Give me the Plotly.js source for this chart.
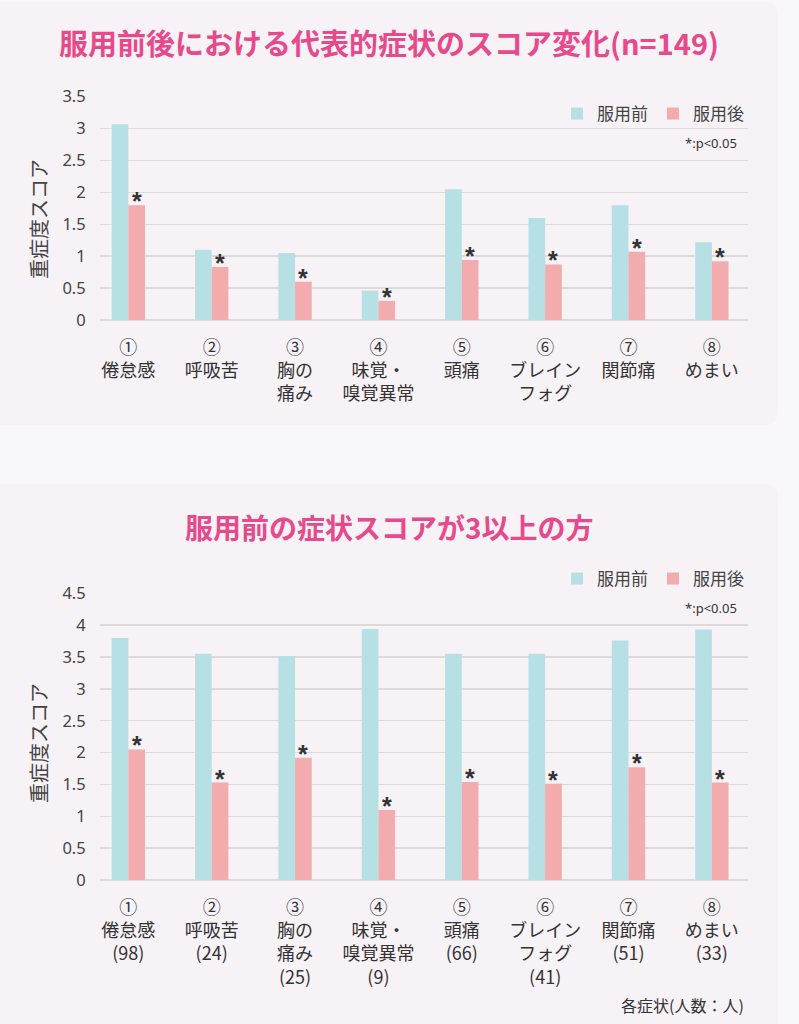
<!DOCTYPE html>
<html>
<head>
<meta charset="utf-8">
<script src="https://cdn.plot.ly/plotly-3.0.1.min.js"></script>
<style>
  html, body { margin: 0; padding: 0; background: #f8f8fa; }
  #chart { width: 799px; height: 1024px; }
</style>
</head>
<body>
<div id="chart"></div>
<script>
// ---- Data ----
const circledNums = ['①','②','③','④','⑤','⑥','⑦','⑧'];
const symptoms = ['倦怠感','呼吸苦','胸の<br>痛み','味覚・<br>嗅覚異常','頭痛','ブレイン<br>フォグ','関節痛','めまい'];
const counts = [98, 24, 25, 9, 66, 41, 51, 33];

// Chart 1: all subjects (n=149)
const before1 = [3.07, 1.10, 1.05, 0.46, 2.05, 1.60, 1.80, 1.22];
const after1  = [1.80, 0.83, 0.60, 0.30, 0.94, 0.87, 1.07, 0.92];
// Chart 2: subjects with pre-score >= 3
const before2 = [3.80, 3.55, 3.51, 3.94, 3.55, 3.55, 3.76, 3.93];
const after2  = [2.05, 1.53, 1.92, 1.10, 1.54, 1.51, 1.77, 1.53];
// significance marks (p<0.05) for after values
const sig1 = ['*','*','*','*','*','*','*','*'];
const sig2 = ['*','*','*','*','*','*','*','*'];

const yTicks1 = [0, 0.5, 1, 1.5, 2, 2.5, 3, 3.5];
const yTicks2 = [0, 0.5, 1, 1.5, 2, 2.5, 3, 3.5, 4, 4.5];

const title1 = '服用前後における代表的症状のスコア変化(n=149)';
const title2 = '服用前の症状スコアが3以上の方';
const yTitle = '重症度スコア';
const seriesNames = ['服用前', '服用後'];
const pNote = '*:p&lt;0.05';
const footNote = '各症状(人数：人)';

// ---- Build ----
const labels1 = symptoms.map((s, i) => circledNums[i] + '<br>' + s);
const labels2 = symptoms.map((s, i) => circledNums[i] + '<br>' + s + '<br>(' + counts[i] + ')');

const W = 799, H = 1024;
const px = v => v / W;
const py = v => 1 - v / H;

const cBefore = '#b7e0e5';
const cAfter = '#f2acad';
const jp = '"Noto Sans CJK JP", "Noto Sans", sans-serif';
const num = '"Noto Sans", "Noto Sans CJK JP", sans-serif';

const traces = [
  { type: 'bar', name: seriesNames[0], x: labels1, y: before1, marker: { color: cBefore }, xaxis: 'x', yaxis: 'y', legend: 'legend', hoverinfo: 'skip' },
  { type: 'bar', name: seriesNames[1], x: labels1, y: after1, marker: { color: cAfter }, xaxis: 'x', yaxis: 'y', legend: 'legend', hoverinfo: 'skip' },
  { type: 'bar', name: seriesNames[0], x: labels2, y: before2, marker: { color: cBefore }, xaxis: 'x2', yaxis: 'y2', legend: 'legend2', hoverinfo: 'skip' },
  { type: 'bar', name: seriesNames[1], x: labels2, y: after2, marker: { color: cAfter }, xaxis: 'x2', yaxis: 'y2', legend: 'legend2', hoverinfo: 'skip' }
];

function roundedRect(x0, y0, x1, y1, r) {
  const rx = r / W, ry = r / H;
  const X0 = px(x0), X1 = px(x1), Y0 = py(y0), Y1 = py(y1);
  return `M${X0 + rx},${Y0} L${X1 - rx},${Y0} Q${X1},${Y0} ${X1},${Y0 - ry} ` +
         `L${X1},${Y1 + ry} Q${X1},${Y1} ${X1 - rx},${Y1} ` +
         `L${X0 + rx},${Y1} Q${X0},${Y1} ${X0},${Y1 + ry} ` +
         `L${X0},${Y0 - ry} Q${X0},${Y0} ${X0 + rx},${Y0} Z`;
}

const gridC = '#dddadd';
function xAxis(anchor) {
  return {
    anchor: anchor, domain: [px(100), px(747.7)], range: [-0.34, 7.43],
    type: 'category', showgrid: false, zeroline: false, showline: false,
    ticks: 'outside', ticklen: 11, tickcolor: 'rgba(0,0,0,0)',
    tickfont: { family: jp, size: 18, color: '#333' }, fixedrange: true
  };
}
function yAxis(anchor, dom, range, tv) {
  return {
    anchor: anchor, domain: dom, range: range, tickvals: tv,
    showgrid: true, gridcolor: gridC, gridwidth: 1.5,
    zeroline: true, zerolinecolor: gridC, zerolinewidth: 1.5, showline: false,
    ticks: 'outside', ticklen: 10, tickcolor: 'rgba(0,0,0,0)',
    tickfont: { family: num, size: 16.5, color: '#444' }, fixedrange: true
  };
}

const annotations = [];
// significance marks above "after" bars
function addSig(labels, vals, marks, xr, yr) {
  labels.forEach((l, i) => {
    annotations.push({
      x: l, y: vals[i], xref: xr, yref: yr, text: '<b>' + marks[i] + '</b>', showarrow: false,
      xshift: 8.3, yshift: -12, yanchor: 'bottom',
      font: { family: '"Liberation Sans", sans-serif', size: 25, color: '#333' }
    });
  });
}
addSig(labels1, after1, sig1, 'x', 'y');
addSig(labels2, after2, sig2, 'x2', 'y2');

annotations.push(
  { xref: 'paper', yref: 'paper', x: px(389), y: py(527), text: '<b>' + title2 + '</b>', showarrow: false,
    xanchor: 'center', yanchor: 'middle', font: { family: jp, size: 28, color: '#e64a8b' } },
  { xref: 'paper', yref: 'paper', x: px(38), y: py(219), text: yTitle, showarrow: false, textangle: -90,
    xanchor: 'center', yanchor: 'middle', font: { family: jp, size: 20, color: '#444' } },
  { xref: 'paper', yref: 'paper', x: px(38), y: py(743), text: yTitle, showarrow: false, textangle: -90,
    xanchor: 'center', yanchor: 'middle', font: { family: jp, size: 20, color: '#444' } },
  { xref: 'paper', yref: 'paper', x: px(739), y: py(143), text: pNote, showarrow: false,
    xanchor: 'right', yanchor: 'middle', font: { family: num, size: 13, color: '#333' } },
  { xref: 'paper', yref: 'paper', x: px(739), y: py(608), text: pNote, showarrow: false,
    xanchor: 'right', yanchor: 'middle', font: { family: num, size: 13, color: '#333' } },
  { xref: 'paper', yref: 'paper', x: px(746), y: py(1005), text: footNote, showarrow: false,
    xanchor: 'right', yanchor: 'middle', font: { family: jp, size: 16, color: '#333' } }
);

const legendBase = {
  orientation: 'h', xanchor: 'right', yanchor: 'middle', bgcolor: 'rgba(0,0,0,0)',
  font: { family: jp, size: 17, color: '#444' }, traceorder: 'normal',
  itemclick: false, itemdoubleclick: false
};

const layout = {
  width: W, height: H,
  margin: { l: 0, r: 0, t: 0, b: 0 },
  paper_bgcolor: '#f8f8fa', plot_bgcolor: 'rgba(0,0,0,0)',
  title: { text: '<b>' + title1 + '</b>', x: px(389), xanchor: 'center', xref: 'paper',
           y: py(45), yref: 'container', yanchor: 'middle',
           font: { family: jp, size: 29, color: '#e64a8b' } },
  barmode: 'group', bargap: 0.6, bargroupgap: 0,
  showlegend: true,
  legend: Object.assign({}, legendBase, { x: px(749), y: py(114) }),
  legend2: Object.assign({}, legendBase, { x: px(749), y: py(579) }),
  xaxis: xAxis('y'),
  yaxis: yAxis('x', [py(320), py(96.7)], [0, 3.5], yTicks1),
  xaxis2: xAxis('y2'),
  yaxis2: yAxis('x2', [py(880), py(593.3)], [0, 4.5], yTicks2),
  shapes: [
    { type: 'path', xref: 'paper', yref: 'paper', layer: 'below', path: roundedRect(-20, 2, 778, 425, 14),
      fillcolor: '#f7f2f6', line: { width: 0 } },
    { type: 'path', xref: 'paper', yref: 'paper', layer: 'below', path: roundedRect(-20, 484, 778, 1060, 14),
      fillcolor: '#f7f2f6', line: { width: 0 } }
  ],
  annotations: annotations
};

Plotly.newPlot('chart', traces, layout, { displayModeBar: false, staticPlot: true });
</script>
</body>
</html>
